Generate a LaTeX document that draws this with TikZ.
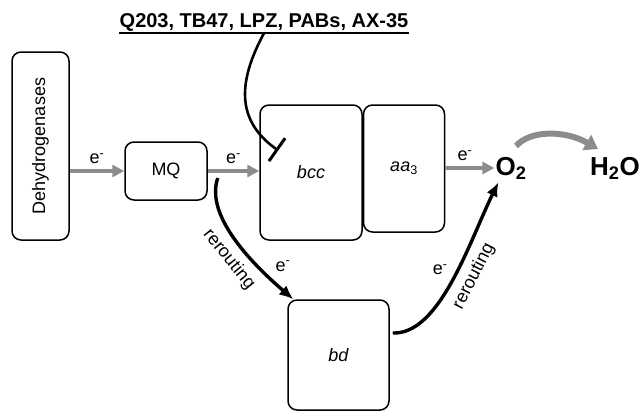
\documentclass[tikz,border=0pt]{standalone}
\usepackage{fontspec}
\setmainfont{Liberation Sans}
\usetikzlibrary{positioning,calc,arrows.meta}

\tikzset{
  box/.style={draw, line width=1.5pt, rounded corners=9pt, inner sep=0pt, font=\fontsize{18}{20}\selectfont},
  chem/.style={inner sep=1pt, font=\fontsize{26}{28}\selectfont\bfseries},
  drug/.style={inner xsep=0pt, inner ysep=2pt, font=\fontsize{20}{22}\selectfont\bfseries},
  elab/.style={font=\fontsize{18}{20}\selectfont, inner sep=2pt},
  flow/.style={draw=gray!90, line width=4.5pt, -{Triangle[length=12pt,width=12pt]}},
  reroute/.style={line width=3.4pt, -{Latex[length=14pt,width=12pt]}},
  inhib/.style={line width=2.6pt, -{Bar[width=28pt,line width=3pt]}},
}

\begin{document}
\begin{tikzpicture}[x=1pt,y=-1pt]
\useasboundingbox (0,0) rectangle (639,413);
% respiratory chain: pixel coordinates, y grows downwards
\node[box, minimum width=57pt, minimum height=188pt] (dehyd) at (40.5,146) {\rotatebox{90}{Dehydrogenases}};
\node[box, minimum width=82pt, minimum height=58pt] (mq) at (166,171) {MQ};
\node[box, minimum width=102pt, minimum height=135pt] (bcc) at (311,172.5) {\textit{bcc}};
\node[box, minimum width=81pt, minimum height=127pt, anchor=north west] (aa3) at (bcc.north east) {\textit{aa}\textsubscript{3}};
\node[box, minimum width=101pt, minimum height=110pt] (bd) at (338.5,355) {\textit{bd}};
\node[chem] (o2) at (511,168) {O\textsubscript{2}};
\node[chem] (h2o) at (615,168) {H\textsubscript{2}O};
\node[drug] (drugs) at (264,22) {Q203, TB47, LPZ, PABs, AX-35};
\draw[line width=1.8pt] (drugs.south west) -- (drugs.south east);
% main electron flow
\draw[flow] (dehyd.east |- mq.west) -- node[elab,above=3pt] {e\textsuperscript{-}} (mq.west);
\draw[flow] (mq.east) -- node[elab,above=3pt] {e\textsuperscript{-}} (mq.east -| bcc.west);
\draw[flow] (aa3.east |- o2.west) -- node[elab,above=3pt,pos=0.4] {e\textsuperscript{-}} (o2.west);
\draw[draw=gray!90, line width=6pt, -{Triangle[length=13pt,width=17pt]}]
  ([shift={(5,-22)}]o2.center) .. controls (530,130) and (565,130) .. ([shift={(-17,-19)}]h2o.center);
% inhibition of bcc
\draw[inhib] (drugs.south) .. controls (236,85) and (238,122) .. ([shift={(19,-22)}]bcc.west);
% rerouting through bd
\draw[reroute] ([shift={(10,7)}]mq.east) .. controls (205,215) and (250,262) .. ([xshift=6pt]bd.north west)
  node[elab,sloped,below=5pt,pos=0.58] {rerouting}
  node[elab,right=14pt,pos=0.72] {e\textsuperscript{-}};
\draw[reroute] ([shift={(3,-22)}]bd.east) .. controls (440,335) and (470,240) .. ([shift={(4,2)}]o2.south west)
  node[elab,sloped,below=5pt,pos=0.56] {rerouting}
  node[elab,above left=2pt,pos=0.5] {e\textsuperscript{-}};
\end{tikzpicture}
\end{document}
